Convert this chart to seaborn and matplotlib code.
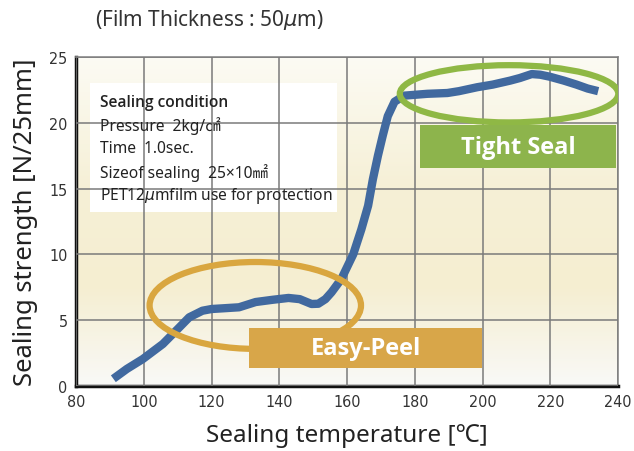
#!/usr/bin/env python3
# coding: utf-8
import numpy as np
import pandas as pd
import seaborn as sns
import matplotlib.pyplot as plt
from matplotlib.patches import Ellipse, Rectangle
from matplotlib.colors import LinearSegmentedColormap

# ------------------------------------------------
# Data
# ------------------------------------------------
temperature = [91, 95, 99.7, 105.6, 110, 113.4, 117.3, 120, 123.2, 128.1, 133, 138,
               142.7, 146, 149.5, 151.5, 153.6, 155.4, 158.3, 161.8, 164.2, 166.2,
               167.6, 169.1, 170.5, 172.0, 174.0, 176.9, 183.7, 189.6, 193, 198.4,
               203, 208.1, 211, 214.5, 217, 219.8, 224, 227.7, 231, 234.1]
strength = [0.55, 1.3, 2.05, 3.19, 4.33, 5.22, 5.72, 5.85, 5.9, 5.98, 6.38, 6.55,
            6.69, 6.6, 6.23, 6.25, 6.6, 7.12, 8.13, 10.0, 11.9, 13.7,
            15.7, 17.5, 19.0, 20.5, 21.6, 22.06, 22.2, 22.26, 22.4, 22.7,
            22.9, 23.2, 23.4, 23.7, 23.65, 23.5, 23.2, 22.9, 22.6, 22.4]
x_ticks = [80, 100, 120, 140, 160, 180, 200, 220, 240]
y_ticks = [0, 5, 10, 15, 20, 25]
conditions = ["Sealing condition",
              "Pressure  2kg/㎠",
              "Time  1.0sec.",
              "Sizeof sealing  25×10㎟",
              "PET12$\\mu$mfilm use for protection"]

df = pd.DataFrame({"temp": temperature, "strength": strength})

# ------------------------------------------------
# Plot
# ------------------------------------------------
sns.set_theme(style="white")
plt.rcParams['font.family'] = ['Noto Sans', 'Noto Sans CJK JP', 'DejaVu Sans']
plt.rcParams['mathtext.fontset'] = 'dejavusans'

fig = plt.figure(figsize=(6.34, 4.52), dpi=100)
ax = fig.add_axes([0.12, 0.1438, 0.855, 0.728])

# background gradient
cmap = LinearSegmentedColormap.from_list(
    "bg", [(0.0, "#f9f9f7"), (0.3, "#f5eed1"), (0.6, "#f6f0d6"), (1.0, "#fcfbf4")])
grad = np.linspace(0, 1, 256).reshape(-1, 1)
ax.imshow(grad, cmap=cmap, aspect="auto", origin="lower",
          extent=[80, 240, 0, 25], zorder=0)

ax.set_xlim(80, 240)
ax.set_ylim(0, 25)
ax.grid(True, color="#7a7a7a", linewidth=1.1, zorder=1)
ax.set_axisbelow(False)

for side in ["top", "right"]:
    ax.spines[side].set_color("#8a8a8a")
    ax.spines[side].set_linewidth(1.2)
for side in ["left", "bottom"]:
    ax.spines[side].set_color("#111111")
    ax.spines[side].set_linewidth(2.5)

# condition box
ax.add_patch(Rectangle((84, 13.2), 73, 9.8, facecolor="white", edgecolor="none", zorder=2))
ys = [21.6, 19.8, 18.05, 16.25, 14.5]
for i, (txt, yy) in enumerate(zip(conditions, ys)):
    if i == 0:
        ax.text(87, yy, txt, fontsize=11.2, color="#222222", va="center", ha="left",
                family=["Open Sans", "DejaVu Sans"], fontweight="semibold", zorder=3)
    else:
        ax.text(87, yy, txt, fontsize=11.2, color="#222222", va="center", ha="left", zorder=3)

# curve
sns.lineplot(data=df, x="temp", y="strength", ax=ax, color="#41699f",
             linewidth=6, sort=False, zorder=4)
ln = ax.lines[-1]
ln.set_solid_capstyle("butt")
ln.set_solid_joinstyle("round")

# ellipses and labels
ax.add_patch(Ellipse((207.8, 22.2), 64.5, 4.35, fill=False, edgecolor="#8fb845",
                     linewidth=4.5, zorder=5))
ax.add_patch(Ellipse((132.9, 6.12), 62.4, 6.6, fill=False, edgecolor="#d9a63f",
                     linewidth=4.5, zorder=5))
ax.add_patch(Rectangle((181.4, 16.6), 58, 3.2, facecolor="#8db44c", edgecolor="none", zorder=6))
ax.text(210.4, 18.15, "Tight Seal", color="white", fontsize=17, fontweight="bold",
        family=["Open Sans", "DejaVu Sans"], ha="center", va="center", zorder=7)
ax.add_patch(Rectangle((131.0, 1.37), 68.9, 3.05, facecolor="#d8a649", edgecolor="none", zorder=6))
ax.text(165.5, 2.85, "Easy-Peel", color="white", fontsize=17, fontweight="bold",
        family=["Open Sans", "DejaVu Sans"], ha="center", va="center", zorder=7)

ax.set_xlabel("Sealing temperature [℃]", fontsize=17.5, color="#222222", labelpad=10)
ax.set_ylabel("Sealing strength [N/25mm]", fontsize=18.5, color="#222222", labelpad=8)
fig.text(0.33, 0.955, "(Film Thickness : 50$\\mu$m)", fontsize=15, color="#333333",
         ha="center", va="center")

# ticks in a narrow face
ax.set_xticks(x_ticks)
ax.set_yticks(y_ticks)
ax.set_xticklabels([str(v) for v in x_ticks], family="DejaVu Sans", fontstretch="condensed")
ax.set_yticklabels([str(v) for v in y_ticks], family="DejaVu Sans", fontstretch="condensed")
ax.tick_params(axis="both", direction="out", length=4, width=1.2,
               color="#222222", labelcolor="#333333", labelsize=11.5, pad=2)

plt.savefig("out.png", dpi=100)
plt.close(fig)
